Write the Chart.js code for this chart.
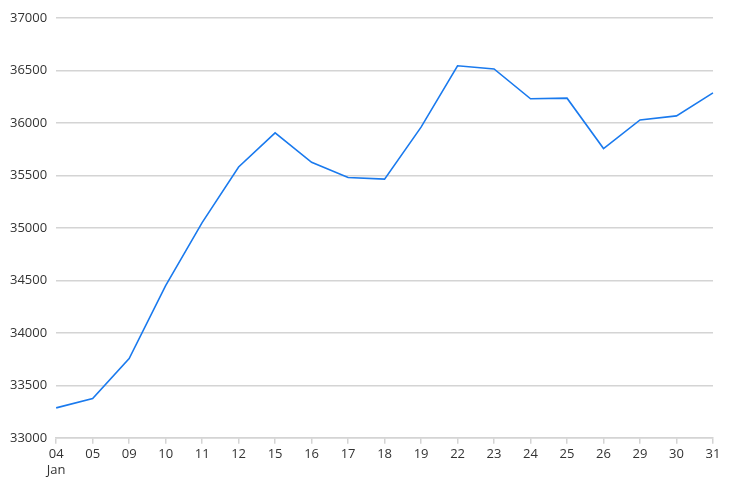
<!DOCTYPE html>
<html>
<head>
<meta charset="utf-8">
<script src="https://cdn.jsdelivr.net/npm/chart.js@4"></script>
<style>
html,body{margin:0;padding:0;background:#fff;}
#wrap{width:733px;height:495px;position:relative;}
</style>
</head>
<body>
<div id="wrap"><canvas id="c"></canvas></div>
<script>
const categories = [['04','Jan'],'05','09','10','11','12','15','16','17','18','19','22','23','24','25','26','29','30','31'];
const values = [33285,33375,33755,34450,35050,35580,35905,35625,35480,35465,35960,36545,36515,36230,36236,35756,36029,36067,36287];
const yMin = 33000, yMax = 37000, yStep = 500;

new Chart(document.getElementById('c'), {
  type: 'line',
  data: {
    labels: categories,
    datasets: [{
      data: values,
      borderColor: '#1a7aee',
      borderWidth: 1.6,
      pointRadius: 0,
      tension: 0,
      fill: false
    }]
  },
  options: {
    responsive: true,
    maintainAspectRatio: false,
    animation: false,
    layout: { padding: { left: 1, right: 20, top: 18, bottom: 14 } },
    plugins: { legend: { display: false }, tooltip: { enabled: false } },
    scales: {
      x: {
        offset: false,
        grid: { drawOnChartArea: false, drawTicks: true, tickLength: 6, color: '#d4d4d4', lineWidth: 1.5 },
        border: { display: true, color: '#d4d4d4', width: 1.5 },
        ticks: { color: '#333', font: { family: 'Open Sans', size: 13 }, maxRotation: 0, autoSkip: false, padding: 3 }
      },
      y: {
        min: yMin, max: yMax,
        grid: { drawTicks: false, color: '#d4d4d4', lineWidth: 1.5 },
        border: { display: false },
        ticks: { stepSize: yStep, color: '#333', font: { family: 'Open Sans', size: 13 }, padding: 9,
          callback: v => String(v) }
      }
    }
  }
});
</script>
</body>
</html>
